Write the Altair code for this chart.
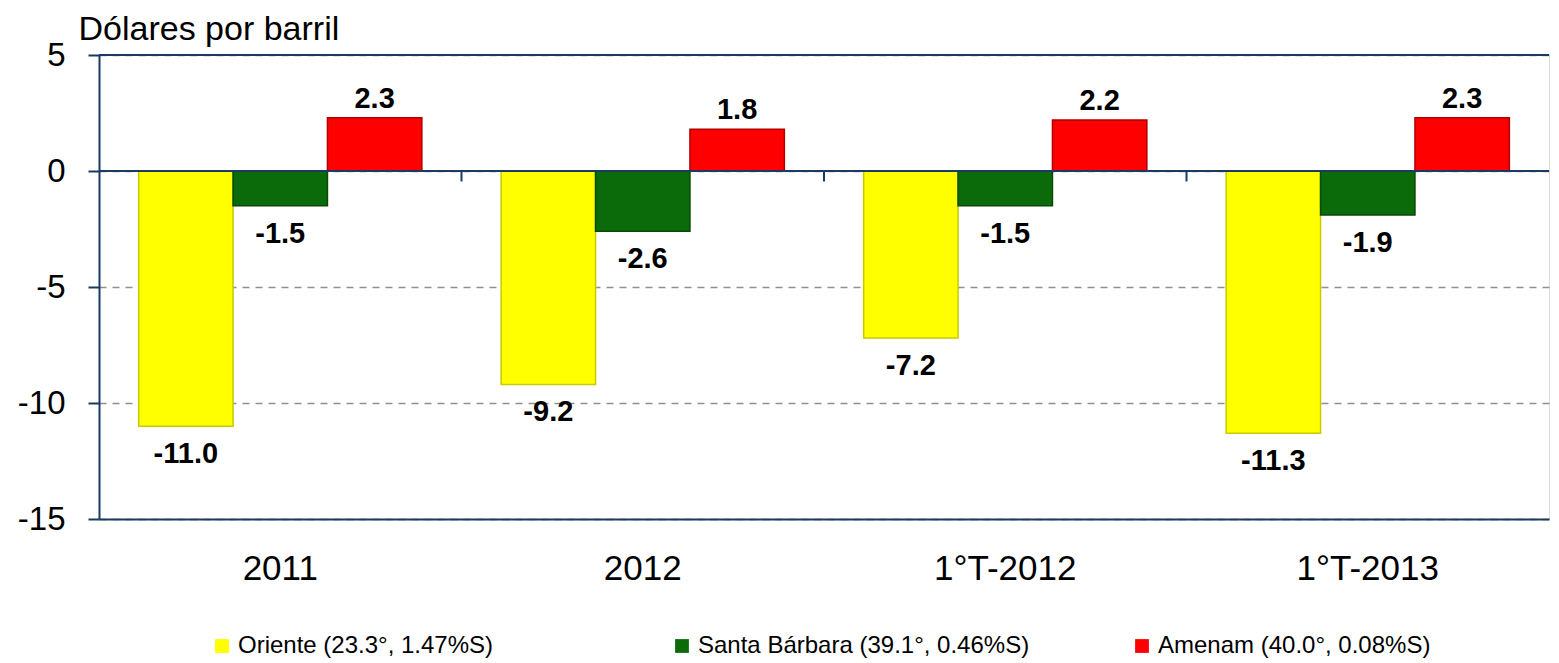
import altair as alt
import pandas as pd

categories = ["2011", "2012", "1°T-2012", "1°T-2013"]
series = ["Oriente (23.3°, 1.47%S)", "Santa Bárbara (39.1°, 0.46%S)", "Amenam (40.0°, 0.08%S)"]
oriente = [-11.0, -9.2, -7.2, -11.3]
santa_barbara = [-1.5, -2.6, -1.5, -1.9]
amenam = [2.3, 1.8, 2.2, 2.3]
y_ticks = [5, 0, -5, -10, -15]

fill_colors = ["#FFFF00", "#0B6B0B", "#FF0000"]
edge_colors = ["#C9C900", "#064A06", "#B00000"]
NAVY = "#1B3A63"
FONT = "Liberation Sans"

rows = []
for s, vals in zip(series, [oriente, santa_barbara, amenam]):
    for c, v in zip(categories, vals):
        rows.append({"cat": c, "serie": s, "valor": v, "label": f"{v:.1f}"})
df = pd.DataFrame(rows)

ticks_df = pd.DataFrame({"cat": categories[1:]})

x_enc = alt.X(
    "cat:N",
    sort=categories,
    scale=alt.Scale(paddingInner=0, paddingOuter=0),
    axis=alt.Axis(
        title=None, orient="bottom", ticks=False, labelAngle=0,
        labelFontSize=35, labelPadding=32, labelColor="#000000",
        domainColor=NAVY, domainWidth=2, labelFont=FONT,
    ),
)
y_scale = alt.Scale(domain=[-15, 5], nice=False, zero=False)
y_enc = alt.Y(
    "valor:Q",
    scale=y_scale,
    axis=alt.Axis(
        values=y_ticks, labelExpr="datum.value + ''",
        title="Dólares por barril", titleAngle=0,
        titleAlign="left", titleBaseline="alphabetic", titleX=-21, titleY=-16,
        titleFontSize=34, titleFontWeight="normal", titleFont=FONT, titleColor="#000000",
        labelFontSize=33, labelFont=FONT, labelColor="#000000", labelPadding=23,
        tickSize=11, tickColor=NAVY, tickWidth=2, domainColor=NAVY, domainWidth=2,
        grid=True, gridColor="#8F8F8F", gridDash=[7, 6], gridWidth=1.5,
    ),
)
xoff = alt.XOffset("serie:N", sort=series,
                   scale=alt.Scale(paddingInner=0, paddingOuter=0.42))

bars = alt.Chart(df).mark_bar(strokeWidth=1.5).encode(
    x=x_enc,
    y=y_enc,
    xOffset=xoff,
    color=alt.Color(
        "serie:N", sort=series,
        scale=alt.Scale(domain=series, range=fill_colors),
        legend=alt.Legend(
            title=None, orient="none", direction="horizontal", columns=3,
            legendX=111, legendY=579, symbolType="square", symbolSize=190,
            symbolStrokeWidth=0, labelFontSize=24, labelFont=FONT, labelColor="#000000",
            labelOffset=4, columnPadding=100, gridAlign="all", padding=0,
            labelLimit=500,
        ),
    ),
    stroke=alt.Stroke("serie:N", sort=series,
                      scale=alt.Scale(domain=series, range=edge_colors), legend=None),
)

pos_labels = alt.Chart(df).transform_filter("datum.valor >= 0").mark_text(
    fontSize=29, fontWeight="bold", font=FONT, color="#000000",
    baseline="middle", dy=-19,
).encode(x=alt.X("cat:N", sort=categories), y=alt.Y("valor:Q", scale=y_scale),
         xOffset=xoff, text="label:N")

neg_labels = alt.Chart(df).transform_filter("datum.valor < 0").mark_text(
    fontSize=29, fontWeight="bold", font=FONT, color="#000000",
    baseline="middle", dy=28,
).encode(x=alt.X("cat:N", sort=categories), y=alt.Y("valor:Q", scale=y_scale),
         xOffset=xoff, text="label:N")

zero_rule = alt.Chart(pd.DataFrame({"v": [0]})).mark_rule(color=NAVY, strokeWidth=2).encode(
    y=alt.Y("v:Q", scale=y_scale)
)
top_rule = alt.Chart(pd.DataFrame({"v": [5]})).mark_rule(color=NAVY, strokeWidth=2).encode(
    y=alt.Y("v:Q", scale=y_scale)
)
cat_ticks = alt.Chart(ticks_df).mark_rule(color=NAVY, strokeWidth=2).encode(
    x=alt.X("cat:N", sort=categories, bandPosition=0),
    y=alt.datum(0, scale=y_scale),
    y2=alt.datum(-0.45),
)

chart = alt.layer(bars, zero_rule, top_rule, cat_ticks, pos_labels, neg_labels).properties(
    width=1450, height=464,
    padding={"left": 9, "top": 4, "right": 0, "bottom": 0},
).configure_view(stroke=None).configure(font=FONT)

chart.save("out.html", embed_options={"renderer": "svg", "actions": False})
